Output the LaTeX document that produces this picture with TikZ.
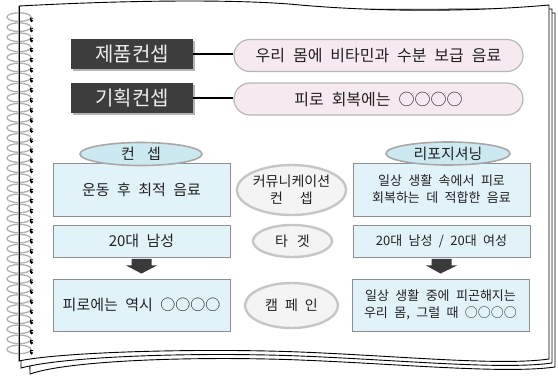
\documentclass[tikz,border=0pt]{standalone}
\usepackage{fontspec}
\setmainfont{Noto Sans CJK KR}[WordSpace=2.2]
\usetikzlibrary{calc,shapes.geometric,shadows}
\definecolor{darkfill}{HTML}{3D3D3D}
\definecolor{darktext}{HTML}{EEEEEE}
\definecolor{shadowgray}{HTML}{B4B4B4}
\definecolor{pillfill}{HTML}{F6E9F0}
\definecolor{pillline}{HTML}{B8B8B8}
\definecolor{boxfill}{HTML}{E1F3F9}
\definecolor{boxline}{HTML}{8E8E8E}
\definecolor{ellfill}{HTML}{CCE9F2}
\definecolor{ellline}{HTML}{A8A8A8}
\definecolor{grayfill}{HTML}{F4F4F4}
\definecolor{grayline}{HTML}{C6C6C6}
\definecolor{arrowfill}{HTML}{3A3A3A}
\definecolor{txt}{HTML}{222222}
\definecolor{spiralgray}{HTML}{B0B0B0}
\begin{document}
\begin{tikzpicture}[x=1pt,y=-1pt,
  darkbox/.style={draw=none,fill=darkfill,text=darktext,minimum width=122pt,minimum height=30pt,inner sep=0pt,
    font=\fontsize{20}{22}\selectfont,
    drop shadow={shadow xshift=2pt,shadow yshift=-2pt,fill=shadowgray,opacity=1}},
  pill/.style={draw=pillline,line width=1.2pt,fill=pillfill,rounded corners=16pt,minimum width=289pt,minimum height=32pt,inner sep=0pt,text=txt,font=\fontsize{16}{18}\selectfont},
  leftbox/.style={draw=boxline,line width=0.9pt,fill=boxfill,inner sep=0pt,text=txt,align=center,minimum width=177pt,font=\fontsize{15}{18}\selectfont},
  rightbox/.style={draw=boxline,line width=0.9pt,fill=boxfill,inner sep=0pt,text=txt,align=center,minimum width=177pt,font=\fontsize{13}{17}\selectfont},
  blueell/.style={ellipse,draw=ellline,line width=1.6pt,fill=ellfill,inner sep=0pt,text=txt,font=\fontsize{15}{18}\selectfont},
  grayell/.style={ellipse,draw=grayline,line width=2.4pt,fill=grayfill,inner sep=0pt,text=txt,align=center,font=\fontsize{14}{17}\selectfont},
  link/.style={line width=2.6pt,black},
  blockarrow/.style={fill=arrowfill,draw=none},
  spiralloop/.style={draw=spiralgray,line width=1.3pt},
  pageline/.style={draw=black,line width=0.9pt}
]
\useasboundingbox (0,0) rectangle (558,376);
\fill[white] (0,0) rectangle (558,376);

% back pages
\draw[pageline,fill=white] (26,14) -- (555,13) -- (555,367)
  .. controls (505,374) and (400,364) .. (300,360)
  .. controls (200,356) and (70,360) .. (30,374) -- cycle;
\draw[pageline,fill=white] (22,10) -- (552,9) -- (552,363)
  .. controls (502,370) and (400,360) .. (300,356)
  .. controls (200,352) and (65,356) .. (21,368) -- cycle;
\draw[spiralgray,line width=1.4pt] (551.5,11) -- (551.5,361);
% front page
\draw[pageline,fill=white] (19,6) .. controls (150,-1) and (250,0) .. (300,5)
  .. controls (380,12) and (470,12) .. (549,5) -- (549,359)
  .. controls (500,366) and (400,356) .. (300,352)
  .. controls (200,348) and (60,352) .. (19,361) -- cycle;

% spiral
\foreach \k in {0,...,33}{
  \pgfmathsetmacro{\yy}{20.7+10.07*\k}
  \draw[spiralloop] (19,\yy-3.6) ellipse [x radius=12, y radius=4.3];
  \draw[black,line width=0.9pt] (33.2,\yy-2.4) arc[start angle=-40,end angle=-220,radius=1.8];
  \fill[black] (31.6,\yy) circle (1.6);
}
\draw[pageline] (19,6) -- (19,361);

% concept rows
\node[darkbox] (c1) at (132,54) {제품컨셉};
\node[darkbox] (c2) at (132,98) {기획컨셉};
\node[pill] (p1) at (378.5,55.5) {우리 몸에 비타민과 수분 보급 음료};
\node[pill] (p2) at (378.5,99) {피로 회복에는 ○○○○};
\draw[link] (c1.east) -- (c1.east -| p1.west);
\draw[link] (c2.east) -- (c2.east -| p2.west);

% left column
\node[leftbox,minimum height=53pt] (lb1) at (141.5,189.5) {운동 후 최적 음료};
\node[leftbox,minimum height=32pt] (lb2) at (141.5,241) {20대 남성};
\node[leftbox,minimum height=52pt] (lb3) at (141.5,305) {피로에는 역시 ○○○○};
\node[blueell,minimum width=122pt,minimum height=23pt] (le) at (141,154) {컨\hspace{12pt}셉};

% middle column
\node[grayell,minimum width=103pt,minimum height=50pt] (m1) at (291.5,190) {커뮤니케이션\\컨\hspace{17pt}셉};
\node[grayell,minimum width=79pt,minimum height=32pt] (m2) at (292.5,241) {타\hspace{9pt}겟};
\node[grayell,minimum width=93pt,minimum height=45pt] (m3) at (291.5,305.5) {캠\hspace{7pt}페\hspace{7pt}인};

% right column
\node[rightbox,minimum height=53pt] (rb1) at (441.5,189.5) {일상 생활 속에서 피로\\회복하는 데 적합한 음료};
\node[rightbox,minimum height=32pt] (rb2) at (441.5,241) {20대 남성 / 20대 여성};
\node[rightbox,minimum height=52pt] (rb3) at (440.5,305) {일상 생활 중에 피곤해지는\\우리 몸, 그럴 때 ○○○○};
\node[blueell,minimum width=124pt,minimum height=23pt] (re) at (448,153.5) {리포지셔닝};

% block arrows
\foreach \a/\b in {lb2/lb3,rb2/rb3}{
  \fill[blockarrow] ($(\a.south)+(-10,1.5)$) -- ($(\a.south)+(10,1.5)$) -- ($(\a.south)+(10,8)$)
    -- ($(\a.south)+(15.5,8)$) -- ($(\b.north)+(0,-5)$) -- ($(\a.south)+(-15.5,8)$)
    -- ($(\a.south)+(-10,8)$) -- cycle;
}
\end{tikzpicture}
\end{document}
